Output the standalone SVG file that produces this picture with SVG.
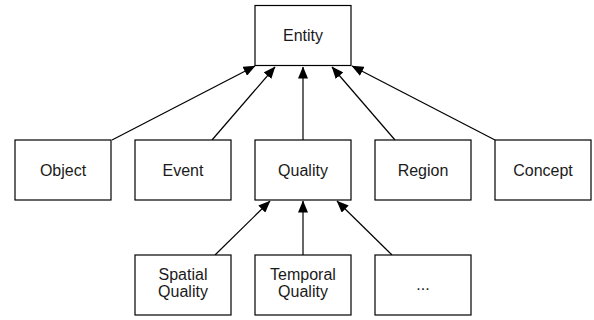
<svg xmlns="http://www.w3.org/2000/svg" width="594" height="320" viewBox="0 0 594 320">
<defs>
<style>
.box{fill:#fff;stroke:#000;stroke-width:1.2}
.lbl{font-family:"Liberation Sans",Arial,sans-serif;font-size:16px;fill:#1a1a1a;text-anchor:middle}
.edge{stroke:#000;stroke-width:1.2;fill:none;marker-end:url(#arr)}
</style>
<marker id="arr" viewBox="0 0 12 10" refX="11.5" refY="5" markerWidth="12" markerHeight="10" markerUnits="userSpaceOnUse" orient="auto">
<path d="M0,0 L12,5 L0,10 Z" fill="#000"/>
</marker>
</defs>
<rect width="594" height="320" fill="#fff"/>
<g id="connectors">
<line class="edge" x1="112" y1="140" x2="255" y2="66"/>
<line class="edge" x1="212" y1="140" x2="275" y2="67"/>
<line class="edge" x1="303" y1="140" x2="303" y2="67"/>
<line class="edge" x1="395" y1="140" x2="332" y2="67"/>
<line class="edge" x1="495" y1="140" x2="352" y2="66"/>
<line class="edge" x1="215" y1="255" x2="270" y2="201"/>
<line class="edge" x1="303" y1="255" x2="303" y2="201"/>
<line class="edge" x1="392" y1="255" x2="337" y2="201"/>
</g>
<g id="entity"><rect class="box" x="255" y="5.5" width="96" height="60"/><text class="lbl" x="303" y="41">Entity</text></g>
<g id="object"><rect class="box" x="15" y="140" width="96" height="60"/><text class="lbl" x="63" y="175.5">Object</text></g>
<g id="event"><rect class="box" x="135" y="140" width="96" height="60"/><text class="lbl" x="183" y="175.5">Event</text></g>
<g id="quality"><rect class="box" x="255" y="140" width="96" height="60"/><text class="lbl" x="303" y="175.5">Quality</text></g>
<g id="region"><rect class="box" x="375" y="140" width="96" height="60"/><text class="lbl" x="423" y="175.5">Region</text></g>
<g id="concept"><rect class="box" x="495" y="140" width="96" height="60"/><text class="lbl" x="543" y="175.5">Concept</text></g>
<g id="spatial-quality"><rect class="box" x="135" y="255" width="96" height="60"/><text class="lbl" x="183" y="279.5">Spatial</text><text class="lbl" x="183" y="296.5">Quality</text></g>
<g id="temporal-quality"><rect class="box" x="255" y="255" width="96" height="60"/><text class="lbl" x="303" y="279.5">Temporal</text><text class="lbl" x="303" y="296.5">Quality</text></g>
<g id="more"><rect class="box" x="375" y="255" width="96" height="60"/><text class="lbl" x="423" y="290">...</text></g>
</svg>
